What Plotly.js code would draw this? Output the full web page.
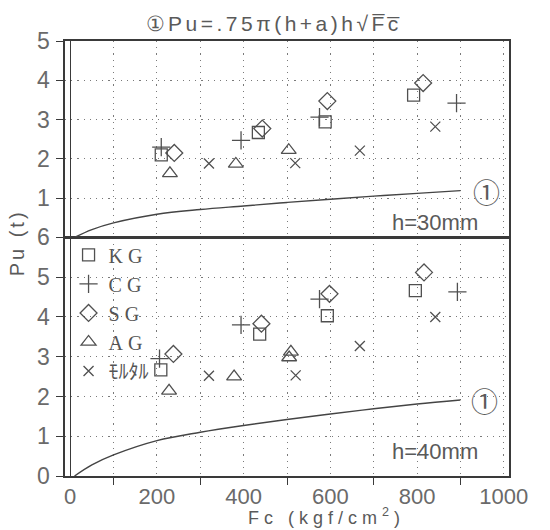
<!DOCTYPE html>
<html>
<head>
<meta charset="utf-8">
<script src="https://cdn.plot.ly/plotly-3.0.1.min.js"></script>
<style>
html,body{margin:0;padding:0;background:#fff;}
#chart{width:550px;height:530px;}
</style>
</head>
<body>
<div id="chart"></div>
<script>
// ---- data ----
const seriesNames = ['KG', 'CG', 'SG', 'AG', 'ﾓﾙﾀﾙ'];
const symbols = ['square-open', 'cross-thin-open', 'diamond-open', 'triangle-up-open', 'x-thin-open'];

// h = 30 mm (upper panel)
const kg30x = [210, 434, 588, 792];  const kg30y = [2.10, 2.67, 2.94, 3.62];
const cg30x = [210, 394, 575, 891];  const cg30y = [2.30, 2.47, 3.06, 3.42];
const sg30x = [240, 443, 593, 814];  const sg30y = [2.15, 2.77, 3.47, 3.93];
const ag30x = [230, 382, 504];       const ag30y = [1.63, 1.87, 2.22];
const mo30x = [320, 519, 668, 842];  const mo30y = [1.88, 1.89, 2.21, 2.82];

// h = 40 mm (lower panel)
const kg40x = [209, 437, 593, 796];      const kg40y = [2.67, 3.57, 4.03, 4.66];
const cg40x = [206, 394, 575, 893];      const cg40y = [2.95, 3.80, 4.45, 4.63];
const sg40x = [238, 441, 598, 816];      const sg40y = [3.07, 3.83, 4.58, 5.12];
const ag40x = [228, 378, 505, 509];      const ag40y = [2.14, 2.50, 2.98, 3.12];
const mo40x = [320, 520, 668, 842];      const mo40y = [2.52, 2.53, 3.27, 4.00];

// curve (1)
const fcCurve   = [10, 50, 100, 200, 300, 400, 500, 600, 700, 800, 900];
const puCurve30 = [0, 0.20, 0.37, 0.59, 0.71, 0.80, 0.89, 0.97, 1.05, 1.12, 1.19];
const puCurve40 = [0, 0.28, 0.53, 0.89, 1.10, 1.27, 1.42, 1.56, 1.69, 1.81, 1.91];

const xTickVals = [0, 200, 400, 600, 800, 1000];
const xMinorVals = [100, 300, 500, 700, 900];
const yTickVals30 = [1, 2, 3, 4, 5];
const yTickVals40 = [0, 1, 2, 3, 4, 5, 6];

// ---- styling ----
const ink = '#505050';
const frame = '#3a3a3a';
const gridDash = '1.2px,5px';
const tickFont = {family: 'Liberation Sans, Arial, sans-serif', size: 22, color: '#6a6a6a'};
const sizes = [12, 13, 13, 13, 10];

const upperSets = [[kg30x,kg30y],[cg30x,cg30y],[sg30x,sg30y],[ag30x,ag30y],[mo30x,mo30y]];
const lowerSets = [[kg40x,kg40y],[cg40x,cg40y],[sg40x,sg40y],[ag40x,ag40y],[mo40x,mo40y]];

const traces = [];
traces.push({x: fcCurve, y: puCurve30, xaxis: 'x2', yaxis: 'y2', mode: 'lines',
  line: {color: '#444', width: 1.4, shape: 'spline'}, showlegend: false, hoverinfo: 'skip'});
traces.push({x: fcCurve, y: puCurve40, xaxis: 'x', yaxis: 'y', mode: 'lines',
  line: {color: '#444', width: 1.4, shape: 'spline'}, showlegend: false, hoverinfo: 'skip'});

for (let i = 0; i < 5; i++) {
  const nm = i < 4 ? '<span style="letter-spacing:5px">' + seriesNames[i] + '</span>' : seriesNames[i];
  traces.push({x: lowerSets[i][0], y: lowerSets[i][1], xaxis: 'x', yaxis: 'y', mode: 'markers', name: nm,
    legendgroup: 'g' + i, showlegend: true,
    marker: {symbol: symbols[i], size: sizes[i], color: ink, line: {color: ink, width: 1.3}}});
  traces.push({x: upperSets[i][0], y: upperSets[i][1], xaxis: 'x2', yaxis: 'y2', mode: 'markers', name: nm,
    legendgroup: 'g' + i, showlegend: false,
    marker: {symbol: symbols[i], size: sizes[i], color: ink, line: {color: ink, width: 1.3}}});
}

const xCommon = {
  range: [-12, 1012], showline: true, mirror: true, linecolor: frame, linewidth: 1.6,
  showgrid: true, gridcolor: '#7a7a7a', gridwidth: 1, griddash: gridDash,
  zeroline: true, zerolinecolor: frame, zerolinewidth: 1.4,
  tickmode: 'array', tickvals: xTickVals, ticks: '',
  minor: {tickmode: 'array', tickvals: xMinorVals, showgrid: true, gridcolor: '#7a7a7a',
          griddash: gridDash, gridwidth: 1, ticks: '', ticklen: 7, tickcolor: frame},
  tickfont: tickFont, fixedrange: true
};

const x1 = Object.assign({}, xCommon, {anchor: 'y', ticklabelstandoff: 0,
  minor: Object.assign({}, xCommon.minor, {ticks: 'outside'})});
const x2 = Object.assign({}, xCommon, {anchor: 'y2', matches: 'x', showticklabels: false});

const yCommon = {
  showline: true, mirror: true, linecolor: frame, linewidth: 1.6,
  showgrid: true, gridcolor: '#7a7a7a', gridwidth: 1, griddash: gridDash,
  zeroline: false, ticks: 'outside', ticklen: 7, tickcolor: frame,
  tickfont: {family: 'Liberation Sans, Arial, sans-serif', size: 23, color: '#6a6a6a'},
  tickmode: 'array', fixedrange: true, ticklabelstandoff: 2
};
const y1 = Object.assign({}, yCommon, {domain: [0, 0.5485], range: [0, 6], tickvals: yTickVals40, anchor: 'x'});
const y2 = Object.assign({}, yCommon, {domain: [0.5485, 1], range: [0, 5], tickvals: yTickVals30, anchor: 'x2'});

const annFont = {family: 'Liberation Sans, Arial, sans-serif', size: 22, color: '#5a5a5a'};
const circFont = {family: 'Noto Sans CJK JP, DejaVu Sans, sans-serif', size: 27, color: '#5a5a5a'};

const layout = {
  width: 550, height: 530,
  margin: {l: 65, r: 41, t: 41, b: 54, pad: 0},
  paper_bgcolor: '#fff', plot_bgcolor: '#fff',
  title: {text: '<span style="letter-spacing:3.5px">①Pu=.75π(h+a)h√F̅c̅</span>',
          font: {family: 'Liberation Sans, Arial, sans-serif', size: 21, color: '#5a5a5a'},
          x: 0.47, xanchor: 'center', y: 0.956, yanchor: 'middle', xref: 'paper'},
  xaxis: x1, xaxis2: x2, yaxis: y1, yaxis2: y2,
  showlegend: true,
  legend: {x: 0.008, xanchor: 'left', y: 0.553, yanchor: 'top', bgcolor: 'rgba(0,0,0,0)',
           borderwidth: 0, itemwidth: 30, tracegroupgap: 0,
           font: {family: 'Liberation Serif, Noto Sans CJK JP, serif', size: 20, color: '#555'}},
  annotations: [
    {xref: 'x2', yref: 'y2', x: 842, y: 0.38, text: 'h=30mm', showarrow: false, font: annFont},
    {xref: 'x', yref: 'y', x: 842, y: 0.62, text: 'h=40mm', showarrow: false, font: annFont},
    {xref: 'x2', yref: 'y2', x: 960, y: 1.18, text: '①', showarrow: false, font: circFont},
    {xref: 'x', yref: 'y', x: 956, y: 1.9, text: '①', showarrow: false, font: circFont},
    {xref: 'paper', yref: 'paper', x: 0.588, y: -0.094, xanchor: 'center', yanchor: 'middle',
     text: '<span style="letter-spacing:5px">Fc (kgf/cm<sup>2</sup>)</span>', showarrow: false,
     font: {family: 'Liberation Sans, Arial, sans-serif', size: 18, color: '#5a5a5a'}},
    {xref: 'paper', yref: 'paper', x: -0.108, y: 0.535, xanchor: 'center', yanchor: 'middle',
     textangle: -90, text: '<span style="letter-spacing:3px">Pu (t)</span>', showarrow: false,
     font: {family: 'Liberation Sans, Arial, sans-serif', size: 20, color: '#5a5a5a'}}
  ]
};

Plotly.newPlot('chart', traces, layout, {displayModeBar: false, staticPlot: true});
</script>
</body>
</html>
